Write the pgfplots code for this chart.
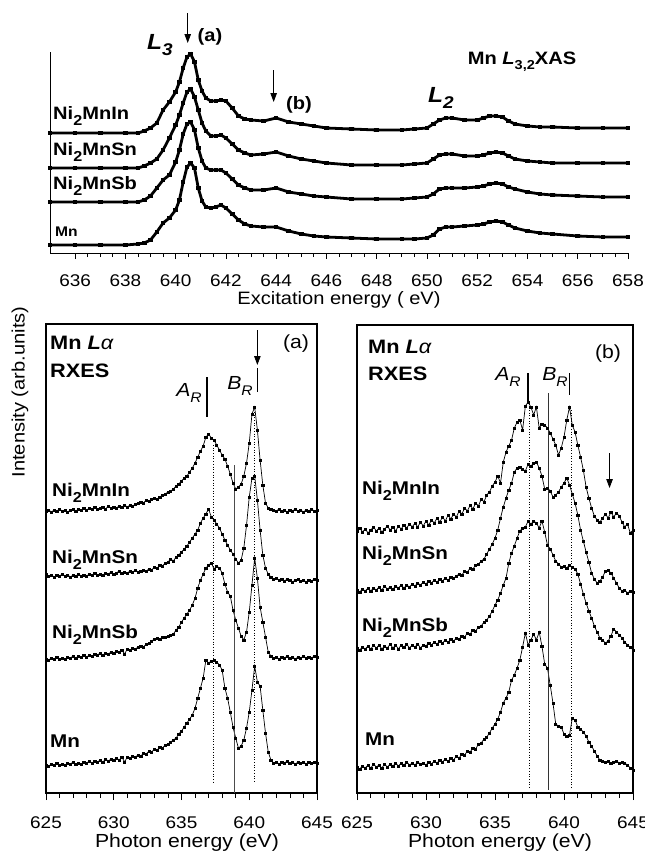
\documentclass[border=0pt]{standalone}
\usepackage{pgfplots}
\pgfplotsset{compat=1.18}
\usepackage{pgfplotstable}
\usepackage{fontspec}
\setmainfont{Liberation Sans}[FakeStretch=1.12]
\usetikzlibrary{arrows.meta}
\newcommand{\fs}[1]{\fontsize{#1}{#1}\selectfont}
\newcommand{\nsub}[1]{\raisebox{-0.3em}{\fs{14.5}#1}}

\pgfplotstableread{
E In Sn Sb Mn
635 133 168 202 245
636 133 168 202 245
637 133 168 202 245
638 133 168 202 245
638.5 133 168 202 244
638.75 131 166 200 243
639 128 163 196 240
639.25 123 159 188 232
639.5 110 150 180 223
639.75 102 138 175 218
640 92 125 162 210
640.15 82 115 150 200
640.3 68 103 134 182
640.45 57 92 124 167
640.6 54 89 122 163
640.75 62 97 130 168
640.9 80 110 148 188
641.05 91 123 161 201
641.2 98 131 168 207
641.4 101 136 170 208
641.6 101 136 170 207
641.8 100 135 170 205
642 101 138 173 208
642.25 108 144 179 214
642.5 116 150 185 220
642.75 119 153 188 224
643 120 155 190 226
643.5 121 154 190 227
644 118 152 188 227
644.5 122 156 192 231
645 124 159 194 234
645.5 126 161 196 236
646 128 163 197 237
647 129 165 199 238
648 130 165 199 239
649 130 165 199 239
649.5 129 164 198 239
650 128 163 197 238
650.25 124 159 194 235
650.5 120 155 189 229
650.75 118 154 188 227
651 118 154 188 227
651.5 120 156 188 226
652 120 156 187 225
652.25 118 155 186 224
652.5 116 153 184 222
652.75 116 152 183 221
653 117 153 184 222
653.25 121 156 187 225
653.5 124 159 189 228
654 126 161 192 231
654.5 127 162 194 233
655 127 163 195 234
656 128 163 196 236
657 128 163 197 237
658 128 163 197 237
}\xas

\pgfplotstableread{
E In Sn Sb Mn
625.0 511 574 659 765
625.2 510 576 660 766
625.4 512 575 658 764
625.6 510 577 659 765
625.8 511 575 657 763
626.0 509 576 659 765
626.2 511 574 658 764
626.4 510 576 659 765
626.6 512 575 657 763
626.8 510 577 658 764
627.0 509 575 656 762
627.2 511 576 658 764
627.4 509 574 656 763
627.6 510 576 657 764
627.8 508 575 655 762
628.0 510 576 657 763
628.2 508 574 655 761
628.4 509 575 656 763
628.6 507 573 654 761
628.8 509 575 655 762
629.0 508 574 653 760
629.2 507 575 655 762
629.4 509 573 653 759
629.6 506 574 654 761
629.8 508 572 652 759
630.0 507 574 653 760
630.2 508 573 651 758
630.4 506 571 652 760
630.6 507 573 650 757
630.8 505 572 654 762
631.0 507 573 649 757
631.2 505 571 650 758
631.4 506 572 648 756
631.6 504 570 649 757
631.8 503 572 647 755
632.0 502 571 646 756
632.2 503 570 647 753
632.4 500 571 644 754
632.6 501 569 643 751
632.8 499 570 641 752
633.0 498 567 639 749
633.2 499 568 638 750
633.4 497 565 639 747
633.6 495 566 637 748
633.8 494 563 637 745
634.0 492 562 636 744
634.2 491 559 635 742
634.4 489 561 634 740
634.6 486 557 630 738
634.8 484 555 627 734
635.0 481 552 622 731
635.2 478 549 618 727
635.4 476 546 614 723
635.6 472 542 610 719
635.8 468 538 605 715
636.0 463 534 598 708
636.2 457 530 588 698
636.4 451 523 580 688
636.6 446 518 574 678
636.8 437 514 568 660
637.0 434 509 565 663
637.2 438 517 563 661
637.4 440 520 569 660
637.6 445 524 566 662
637.8 450 528 568 665
638.0 455 534 573 670
638.2 459 540 584 688
638.4 466 545 592 698
638.6 474 550 596 712
638.8 483 554 610 727
639.0 489 559 620 738
639.2 487 563 628 748
639.4 484 560 636 746
639.6 476 548 640 740
639.8 463 525 632 728
640.0 443 497 612 712
640.2 414 478 585 690
640.4 407 476 558 666
640.6 430 500 578 682
640.8 460 530 607 686
641.0 485 555 622 710
641.2 503 568 637 733
641.4 508 574 652 752
641.6 509 577 656 760
641.8 510 579 658 763
642.0 511 578 657 762
642.2 509 580 659 764
642.4 511 579 657 762
642.6 510 581 658 763
642.8 512 579 656 761
643.0 510 580 658 763
643.2 511 582 657 762
643.4 509 580 659 764
643.6 511 579 657 762
643.8 510 581 658 763
644.0 512 580 656 762
644.2 510 582 658 764
644.4 511 580 657 762
644.6 509 581 658 763
644.8 511 579 656 762
645.0 510 580 657 763
}\rxa

\pgfplotstableread{
E In Sn Sb Mn
625.0 531 590 648 767
625.2 528 592 650 769
625.4 532 589 647 766
625.6 529 591 649 768
625.8 533 588 646 765
626.0 530 591 649 768
626.2 527 588 645 764
626.4 531 590 648 767
626.6 528 587 645 765
626.8 532 590 649 768
627.0 529 586 646 764
627.2 526 589 648 767
627.4 530 587 644 764
627.6 527 589 648 766
627.8 531 586 645 763
628.0 526 588 649 766
628.2 529 585 645 763
628.4 525 588 647 765
628.6 528 585 644 762
628.8 524 587 648 765
629.0 527 584 645 763
629.2 523 586 647 765
629.4 527 583 644 762
629.6 522 585 648 764
629.8 526 582 645 763
630.0 521 584 646 765
630.2 525 581 643 762
630.4 520 583 645 764
630.6 523 580 642 761
630.8 518 582 644 763
631.0 522 579 641 760
631.2 517 581 643 762
631.4 521 578 640 759
631.6 515 580 642 761
631.8 519 577 639 758
632.0 514 578 641 760
632.2 517 576 638 756
632.4 511 574 639 758
632.6 514 575 636 754
632.8 508 571 637 755
633.0 511 572 633 751
633.2 505 568 634 752
633.4 509 569 630 748
633.6 503 565 631 749
633.8 506 564 627 744
634.0 499 561 626 743
634.2 502 559 622 739
634.4 495 554 620 737
634.6 492 549 616 733
634.8 486 544 611 728
635.0 482 538 605 724
635.2 476 530 600 719
635.4 483 518 593 712
635.6 462 507 585 703
635.8 452 498 578 698
636.0 446 490 563 692
636.2 440 483 553 680
636.4 428 472 546 675
636.6 422 468 538 668
636.8 420 467 531 660
637.0 430 469 528 647
637.2 406 471 527 633
637.4 402 464 521 645
637.6 407 466 524 640
637.8 415 463 521 634
638.0 407 462 523 640
638.2 428 468 528 632
638.4 424 476 521 646
638.6 425 489 532 664
638.8 428 488 545 668
639.0 433 491 549 685
639.2 439 497 555 703
639.4 445 495 561 724
639.6 455 492 564 726
639.8 448 487 567 727
640.0 437 483 566 734
640.2 420 478 568 736
640.4 407 485 565 735
640.6 425 494 567 718
640.8 432 503 569 720
641.0 445 515 574 727
641.2 457 530 584 729
641.4 470 541 594 732
641.6 487 552 603 736
641.8 498 562 611 742
642.0 508 573 618 746
642.2 516 579 626 751
642.4 520 583 632 756
642.6 522 581 638 760
642.8 518 577 640 761
643.0 514 571 643 762
643.2 518 570 641 761
643.4 512 573 636 763
643.6 517 578 629 762
643.8 513 583 632 761
644.0 516 588 635 763
644.2 522 591 638 762
644.4 527 590 642 763
644.6 524 593 645 765
644.8 533 591 647 768
645.0 530 592 650 770
}\rxb

\pgfplotsset{
  xasline/.style={black, line width=2.8bp, mark=square*, mark size=0.9bp},
  rxline/.style={black, line width=0.7bp, mark=square*, mark size=1.1bp},
  /pgf/number format/assume math mode=true,
  every tick/.style={black, line width=0.8bp},
}

\begin{document}
\begin{tikzpicture}[x=1bp,y=1bp]
\useasboundingbox (0,0) rectangle (645,-855);

% ---------------- top XAS panel
\begin{axis}[at={(50bp,-253bp)}, anchor=south west, scale only axis,
  width=578bp, height=201bp, xmin=635, xmax=658, ymin=-253, ymax=-52,
  axis x line*=bottom, axis y line*=left, axis line style={line width=0.9bp},
  ytick=\empty, xtick={636,638,...,658}, minor x tick num=3,
  tick align=outside, major tick length=6bp, minor tick length=4bp,
  xticklabel style={font=\fs{17}, yshift=-12bp},
  /pgf/number format/1000 sep={}, clip=false]
\addplot[xasline] table[x=E, y expr=-\thisrow{In}] {\xas};
\addplot[xasline] table[x=E, y expr=-\thisrow{Sn}] {\xas};
\addplot[xasline] table[x=E, y expr=-\thisrow{Sb}] {\xas};
\addplot[xasline] table[x=E, y expr=-\thisrow{Mn}] {\xas};
\draw[line width=0.8bp, -{Triangle[length=9bp,width=6.5bp]}] (axis cs:640.48,-13) -- (axis cs:640.48,-43);
\draw[line width=0.8bp, -{Triangle[length=9bp,width=6.5bp]}] (axis cs:643.9,-70) -- (axis cs:643.9,-102);
\end{axis}

\node at (160,-45) {\fs{22}\textbf{\textit{L}\raisebox{-0.3em}{\fs{17}\textit{3}}}};
\node at (210,-37) {\fs{18}\textbf{(a)}};
\node at (299,-105) {\fs{18}\textbf{(b)}};
\node at (441,-98) {\fs{22}\textbf{\textit{L}\raisebox{-0.3em}{\fs{17}\textit{2}}}};
\node at (522,-62) {\fs{18}\textbf{Mn \textit{L}\raisebox{-0.3em}{\fs{13}3,2}XAS}};
\node[anchor=west, inner sep=0] at (53,-116) {\fs{18}\textbf{Ni\nsub{2}MnIn}};
\node[anchor=west, inner sep=0] at (53,-152) {\fs{18}\textbf{Ni\nsub{2}MnSn}};
\node[anchor=west, inner sep=0] at (53,-186) {\fs{18}\textbf{Ni\nsub{2}MnSb}};
\node[anchor=west, inner sep=0] at (55,-232) {\fs{14}\textbf{Mn}};
\node at (339,-300) {\fs{18}Excitation energy ( eV)};

% ---------------- bottom left panel (a)
\begin{axis}[at={(46bp,-793bp)}, anchor=south west, scale only axis,
  width=271bp, height=469bp, xmin=625, xmax=645, ymin=-793, ymax=-324,
  axis line style={line width=1.5bp}, ytick=\empty, xtick pos=bottom,
  xtick={625,630,...,645}, minor x tick num=4,
  tick align=outside, major tick length=7bp, minor tick length=5bp,
  xticklabel style={font=\fs{17}, yshift=-13bp},
  /pgf/number format/1000 sep={}, clip=false]
\addplot[rxline] table[x=E, y expr=-\thisrow{In}] {\rxa};
\addplot[rxline] table[x=E, y expr=-\thisrow{Sn}] {\rxa};
\addplot[rxline] table[x=E, y expr=-\thisrow{Sb}] {\rxa};
\addplot[rxline] table[x=E, y expr=-\thisrow{Mn}] {\rxa};
\draw[black, line width=0.7bp, dotted] (axis cs:637.35,-445) -- (axis cs:637.35,-783);
\draw[black, line width=0.7bp, dotted] (axis cs:640.4,-412) -- (axis cs:640.4,-783);
\draw[black!70, line width=0.8bp] (axis cs:638.9,-465) -- (axis cs:638.9,-793);
\draw[line width=1.5bp] (axis cs:636.9,-377) -- (axis cs:636.9,-417);
\draw[line width=1.5bp] (axis cs:640.6,-368) -- (axis cs:640.6,-392);
\draw[line width=0.8bp, -{Triangle[length=9bp,width=6.5bp]}] (axis cs:640.6,-330) -- (axis cs:640.6,-365);
\end{axis}
\node[anchor=west, inner sep=0] at (50,-343) {\fs{19.5}\textbf{Mn \textit{L}}\textit{α}};
\node[anchor=west, inner sep=0] at (50,-371) {\fs{19.5}\textbf{RXES}};
\node at (296,-344) {\fs{19}(a)};
\node at (189,-393) {\fs{19}\textit{A}\raisebox{-0.35em}{\fs{14}\textit{R}}};
\node at (240,-386) {\fs{19}\textit{B}\raisebox{-0.35em}{\fs{14}\textit{R}}};
\node[anchor=west, inner sep=0] at (52,-493) {\fs{18.5}\textbf{Ni\nsub{2}MnIn}};
\node[anchor=west, inner sep=0] at (52,-560) {\fs{18.5}\textbf{Ni\nsub{2}MnSn}};
\node[anchor=west, inner sep=0] at (52,-635) {\fs{18.5}\textbf{Ni\nsub{2}MnSb}};
\node[anchor=west, inner sep=0] at (50,-741) {\fs{18.5}\textbf{Mn}};
\node at (187,-843) {\fs{19}Photon energy (eV)};

% ---------------- bottom right panel (b)
\begin{axis}[at={(357bp,-793bp)}, anchor=south west, scale only axis,
  width=276bp, height=468bp, xmin=625, xmax=645, ymin=-793, ymax=-325,
  axis line style={line width=1.5bp}, ytick=\empty, xtick pos=bottom,
  xtick={625,630,...,645}, minor x tick num=4,
  tick align=outside, major tick length=7bp, minor tick length=5bp,
  xticklabel style={font=\fs{17}, yshift=-13bp},
  /pgf/number format/1000 sep={}, clip=false]
\addplot[rxline] table[x=E, y expr=-\thisrow{In}] {\rxb};
\addplot[rxline] table[x=E, y expr=-\thisrow{Sn}] {\rxb};
\addplot[rxline] table[x=E, y expr=-\thisrow{Sb}] {\rxb};
\addplot[rxline] table[x=E, y expr=-\thisrow{Mn}] {\rxb};
\draw[black, line width=0.7bp, dotted] (axis cs:637.5,-410) -- (axis cs:637.5,-787);
\draw[black, line width=0.7bp, dotted] (axis cs:640.56,-410) -- (axis cs:640.56,-787);
\draw[black!80, line width=0.7bp] (axis cs:638.86,-393) -- (axis cs:638.86,-790);
\draw[line width=1.5bp] (axis cs:637.4,-373) -- (axis cs:637.4,-403);
\draw[line width=1.5bp] (axis cs:640.4,-373) -- (axis cs:640.4,-395);
\draw[line width=0.8bp, -{Triangle[length=9bp,width=6.5bp]}] (axis cs:643.3,-453) -- (axis cs:643.3,-488);
\end{axis}
\node[anchor=west, inner sep=0] at (368,-347) {\fs{19.5}\textbf{Mn \textit{L}}\textit{α}};
\node[anchor=west, inner sep=0] at (368,-374) {\fs{19.5}\textbf{RXES}};
\node at (608,-354) {\fs{19}(b)};
\node at (508,-377) {\fs{19}\textit{A}\raisebox{-0.35em}{\fs{14}\textit{R}}};
\node at (555,-377) {\fs{19}\textit{B}\raisebox{-0.35em}{\fs{14}\textit{R}}};
\node[anchor=west, inner sep=0] at (362,-491) {\fs{18.5}\textbf{Ni\nsub{2}MnIn}};
\node[anchor=west, inner sep=0] at (362,-556) {\fs{18.5}\textbf{Ni\nsub{2}MnSn}};
\node[anchor=west, inner sep=0] at (362,-628) {\fs{18.5}\textbf{Ni\nsub{2}MnSb}};
\node[anchor=west, inner sep=0] at (365,-739) {\fs{18.5}\textbf{Mn}};
\node at (500,-843) {\fs{19}Photon energy (eV)};

\node[rotate=90] at (20,-392) {\fs{18}Intensity (arb.units)};
\end{tikzpicture}
\end{document}
